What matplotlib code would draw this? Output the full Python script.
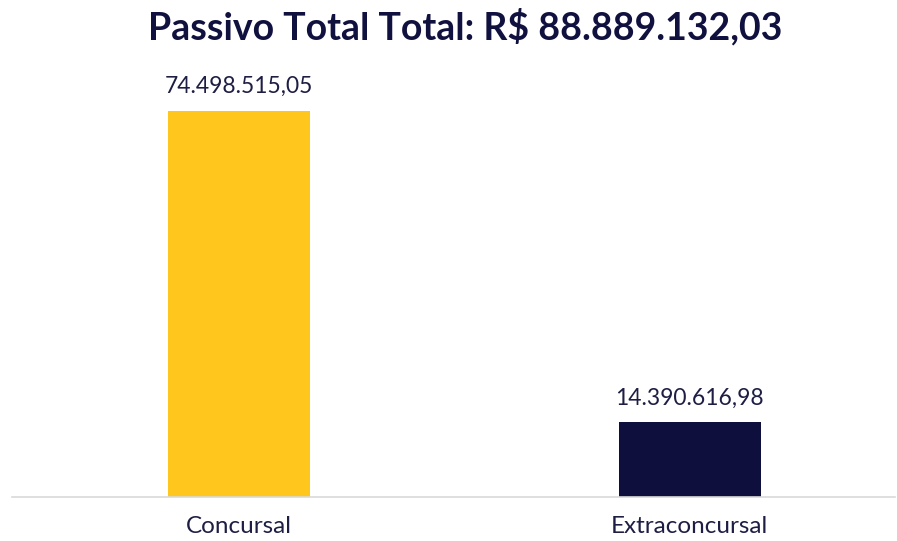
import matplotlib
matplotlib.use("Agg")
import matplotlib.pyplot as plt

categories = ["Concursal", "Extraconcursal"]
values = [74498515.05, 14390616.98]
value_labels = ["74.498.515,05", "14.390.616,98"]
title = "Passivo Total Total: R$ 88.889.132,03"
colors = ["#FFC61E", "#0F0F3D"]

plt.rcParams['font.family'] = ['Lato', 'DejaVu Sans']

fig = plt.figure(figsize=(8.97, 5.41), dpi=100)
W, H = 897, 541
ax = fig.add_axes([12 / W, (541 - 497) / H, (895 - 12) / W, (497 - 80) / H])

x = list(range(len(categories)))
bars = ax.bar(x, values, width=0.315, color=colors)
ax.set_xlim(-0.503, 1.455)
ax.set_ylim(0, values[0] * 417 / 386)

for b, lab in zip(bars, value_labels):
    ax.annotate(lab, (b.get_x() + b.get_width() / 2, b.get_height()),
                xytext=(0, 10), textcoords="offset points",
                ha="center", va="bottom", fontsize=16.5, fontweight="normal",
                color="#1E1E45")

ax.set_xticks(x)
ax.set_xticklabels(categories, fontsize=17.5, fontweight="normal", color="#1E1E45")
ax.tick_params(axis="x", length=0, pad=14)
ax.set_yticks([])
for s in ["top", "right", "left"]:
    ax.spines[s].set_visible(False)
ax.spines["bottom"].set_color("#D9D9D9")
ax.spines["bottom"].set_linewidth(1.2)

fig.text(465 / W, 1 - 27 / H, title, ha="center", va="center",
         fontsize=27, fontweight="bold", color="#111140")

fig.savefig("out.png", dpi=100)
